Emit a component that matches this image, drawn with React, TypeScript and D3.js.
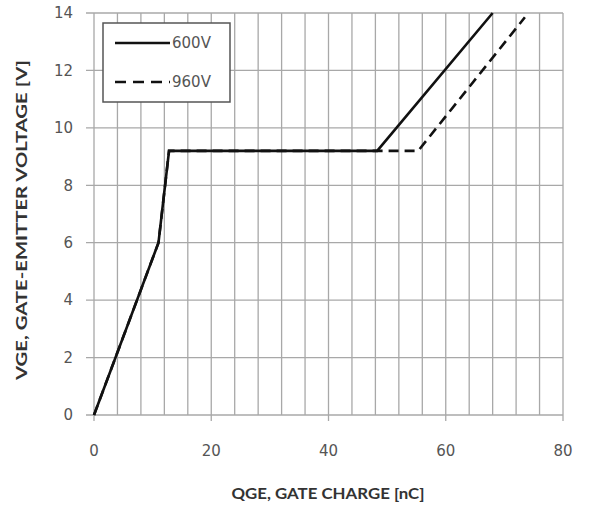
import React from "react";
import * as d3 from "d3";

const seriesNames = ["600V", "960V"];
const qg600 = [0, 11, 12.8, 48.3, 68];
const vge600 = [0, 6, 9.2, 9.2, 14];
const qg960 = [0, 11, 12.8, 55.3, 73.5];
const vge960 = [0, 6, 9.2, 9.2, 13.85];
const xTicks = [0, 20, 40, 60, 80];
const yTicks = [0, 2, 4, 6, 8, 10, 12, 14];
const xMinor = d3.range(0, 81, 4);

export default function App() {
  const W = 592, H = 507;
  const x = d3.scaleLinear().domain([0, 80]).range([94, 563]);
  const y = d3.scaleLinear().domain([0, 14]).range([415, 13]);
  const line = d3.line<[number, number]>().x(d => x(d[0])).y(d => y(d[1]));
  const d600 = line(qg600.map((q, i) => [q, vge600[i]] as [number, number]));
  const d960 = line(qg960.map((q, i) => [q, vge960[i]] as [number, number]));
  const grid = "#a8a8a8";
  const tickFont = "Tahoma, 'DejaVu Sans', sans-serif";
  const dash = "10,6";
  return (
    <svg width={W} height={H} style={{ position: "absolute", left: 0, top: 0, background: "#fff" }}>
      {xMinor.map(v => (
        <line key={"vx" + v} x1={x(v)} x2={x(v)} y1={y(14)} y2={y(0)} stroke={grid} strokeWidth={1.3} />
      ))}
      {xTicks.map(v => (
        <line key={"tx" + v} x1={x(v)} x2={x(v)} y1={y(0)} y2={y(0) + 6} stroke={grid} strokeWidth={1.3} />
      ))}
      {yTicks.map(v => (
        <line key={"gy" + v} x1={x(0) - 8} x2={x(80)} y1={y(v)} y2={y(v)} stroke={grid} strokeWidth={1.3} />
      ))}
      {yTicks.map(v => (
        <text key={"ly" + v} x={73} y={y(v)} dy="0.35em" textAnchor="end" fontSize={15} fill="#555" fontFamily={tickFont}>{v}</text>
      ))}
      {xTicks.map(v => (
        <text key={"lx" + v} x={x(v)} y={451} dy="0.35em" textAnchor="middle" fontSize={15} fill="#555" fontFamily={tickFont}>{v}</text>
      ))}
      <path d={d960 ?? ""} fill="none" stroke="#111" strokeWidth={2.6} strokeDasharray={dash} />
      <path d={d600 ?? ""} fill="none" stroke="#111" strokeWidth={2.6} />
      <rect x={103} y={23} width={127} height={79} fill="#fff" stroke="#555" strokeWidth={1.5} />
      <line x1={115} x2={170} y1={43} y2={43} stroke="#111" strokeWidth={2.6} />
      <line x1={115} x2={170} y1={82} y2={82} stroke="#111" strokeWidth={2.6} strokeDasharray="11,7" />
      <text x={172} y={43} dy="0.35em" fontSize={15} fill="#555" fontFamily={tickFont}>{seriesNames[0]}</text>
      <text x={172} y={82} dy="0.35em" fontSize={15} fill="#555" fontFamily={tickFont}>{seriesNames[1]}</text>
      <text x={328} y={493} dy="0.35em" textAnchor="middle" fontSize={16} fontWeight="bold" fill="#333" fontFamily="Lato, sans-serif" textLength={193} lengthAdjust="spacingAndGlyphs">QGE, GATE CHARGE [nC]</text>
      <text transform={`translate(21,220) rotate(-90)`} dy="0.35em" textAnchor="middle" fontSize={16} fontWeight="bold" fill="#333" fontFamily="Lato, sans-serif" textLength={320} lengthAdjust="spacingAndGlyphs">VGE, GATE-EMITTER  VOLTAGE [V]</text>
    </svg>
  );
}
